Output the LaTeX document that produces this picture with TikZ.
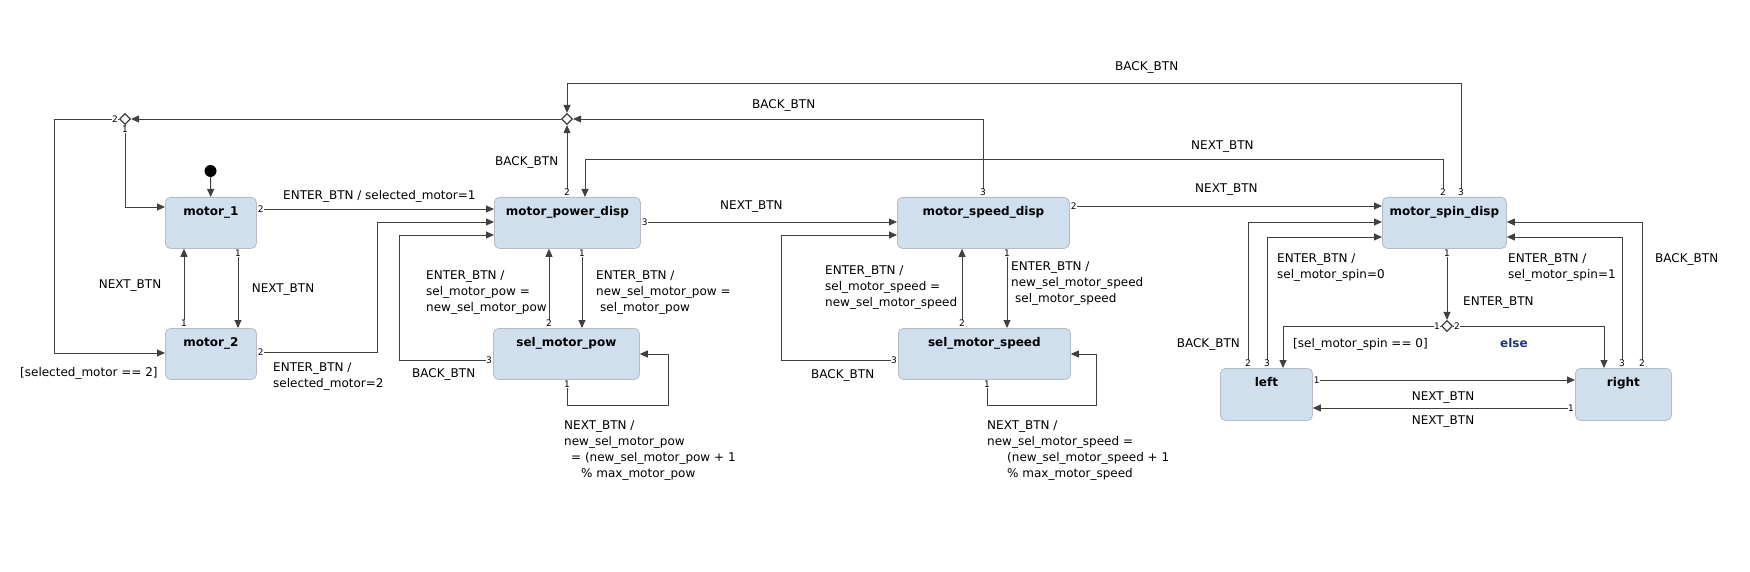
\documentclass[tikz,border=0pt]{standalone}
\usepackage{fontspec}
\setmainfont{DejaVu Sans}
\usetikzlibrary{arrows.meta,positioning,shapes.geometric}
\definecolor{statefill}{RGB}{208,223,238}
\definecolor{stateline}{RGB}{180,188,197}
\definecolor{wire}{RGB}{64,64,64}
\definecolor{elseblue}{RGB}{28,52,128}

\begin{document}
\begin{tikzpicture}[x=1pt, y=-1pt, >={Triangle[length=8pt,width=7pt]},
    statebox/.style={draw=stateline, fill=statefill, rounded corners=5pt, line width=0.8pt,
      anchor=north west, inner sep=0pt, text height=18pt, text depth=33pt,
      font=\fontsize{12}{14}\selectfont\bfseries},
    junc/.style={diamond, draw=wire, fill=white, line width=1.2pt, minimum size=11pt, inner sep=0pt},
    flow/.style={->, draw=wire, line width=0.9pt},
    port/.style={font=\fontsize{9}{9}\selectfont, fill=white, inner sep=0.6pt},
    lbl/.style={font=\fontsize{12}{16}\selectfont, align=left, inner sep=0pt, anchor=base west}]
  \useasboundingbox (0,0) rectangle (1750,572);

  % states
  \node[statebox, minimum width=91pt] (motorone) at (165,197) {motor\_1};
  \node[statebox, minimum width=91pt] (motortwo) at (165,328) {motor\_2};
  \node[statebox, minimum width=146pt] (powdisp) at (494,197) {motor\_power\_disp};
  \node[statebox, minimum width=146pt] (selpow) at (493,328) {sel\_motor\_pow};
  \node[statebox, minimum width=172pt] (speeddisp) at (897,197) {motor\_speed\_disp};
  \node[statebox, minimum width=172pt] (selspeed) at (898,328) {sel\_motor\_speed};
  \node[statebox, minimum width=124pt] (spindisp) at (1382,197) {motor\_spin\_disp};
  \node[statebox, minimum width=92pt, text depth=34pt] (spinleft) at (1220,368) {left};
  \node[statebox, minimum width=96pt, text depth=34pt] (spinright) at (1575,368) {right};

  % initial state and junctions
  \node[circle, fill=black, minimum size=12pt, inner sep=0pt] (init) at (210.5,171) {};
  \node[junc] (jtop) at (125,119) {};
  \node[junc] (jback) at (567,119) {};
  \node[junc] (jspin) at (1447,326) {};

  % transitions
  \draw[flow] (init) -- (motorone);
  \draw[flow] (238,0 |- motorone.south) node[port,below]{1} -- (238,0 |- motortwo.north);
  \draw[flow] (184,0 |- motortwo.north) node[port,above]{1} -- (184,0 |- motorone.south);
  \draw[flow] (motorone.east |- 0,209) node[port,right]{2} -- (powdisp.west |- 0,209);
  \draw[flow] (motortwo.east |- 0,352) node[port,right]{2} -| (377,222) -- (powdisp.west |- 0,222);
  \draw[flow] (jtop.south) node[port,below]{1} |- (motorone.west |- 0,207);
  \draw[flow] (jtop.west) node[port,left]{2} -| (54,353) -- (motortwo.west |- 0,353);

  \draw[flow] (selpow.west |- 0,360) node[port,left]{3} -| (399,235) -- (powdisp.west |- 0,235);
  \draw[flow] (582,0 |- powdisp.south) node[port,below]{1} -- (582,0 |- selpow.north);
  \draw[flow] (549,0 |- selpow.north) node[port,above]{2} -- (549,0 |- powdisp.south);
  \draw[flow] (567,0 |- selpow.south) node[port,below]{1} |- (668,405) |- (selpow.east |- 0,354);
  \draw[flow] (jback |- powdisp.north) node[port,above]{2} -- (jback);
  \draw[flow] (powdisp.east |- 0,222) node[port,right]{3} -- (speeddisp.west |- 0,222);
  \draw[flow] (jback) -- (jtop);

  \draw[flow] (983,0 |- speeddisp.north) node[port,above]{3} |- (jback);
  \draw[flow] (speeddisp.east |- 0,206) node[port,right]{2} -- (spindisp.west |- 0,206);
  \draw[flow] (selspeed.west |- 0,360) node[port,left]{3} -| (781,235) -- (speeddisp.west |- 0,235);
  \draw[flow] (962,0 |- selspeed.north) node[port,above]{2} -- (962,0 |- speeddisp.south);
  \draw[flow] (1007,0 |- speeddisp.south) node[port,below]{1} -- (1007,0 |- selspeed.north);
  \draw[flow] (987,0 |- selspeed.south) node[port,below]{1} |- (1096,405) |- (selspeed.east |- 0,354);

  \draw[flow] (1443,0 |- spindisp.north) node[port,above]{2} |- (585,159) -- (585,0 |- powdisp.north);
  \draw[flow] (1461,0 |- spindisp.north) node[port,above]{3} |- (567,83) -- (jback);
  \draw[flow] (jspin |- spindisp.south) node[port,below]{1} -- (jspin);
  \draw[flow] (jspin.west) node[port,left]{1} -| (1283,0 |- spinleft.north);
  \draw[flow] (jspin.east) node[port,right]{2} -| (1604,0 |- spinright.north);
  \draw[flow] (1248,0 |- spinleft.north) node[port,above]{2} |- (spindisp.west |- 0,222);
  \draw[flow] (1267,0 |- spinleft.north) node[port,above]{3} |- (spindisp.west |- 0,237);
  \draw[flow] (1642,0 |- spinright.north) node[port,above]{2} |- (spindisp.east |- 0,222);
  \draw[flow] (1622,0 |- spinright.north) node[port,above]{3} |- (spindisp.east |- 0,237);
  \draw[flow] (spinleft.east |- 0,380) node[port,right]{1} -- (spinright.west |- 0,380);
  \draw[flow] (spinright.west |- 0,408) node[port,left]{1} -- (spinleft.east |- 0,408);

  % transition labels (multi-line: base is the last line)
  \node[lbl] (tenterone) at (283,200) {ENTER\_BTN / selected\_motor=1};
  \node[lbl] (tentertwo) at (273,387) {ENTER\_BTN /\\selected\_motor=2};
  \node[lbl, anchor=base] (tnextup) at (130,288) {NEXT\_BTN};
  \node[lbl, anchor=base] (tnextdown) at (283,292) {NEXT\_BTN};
  \node[lbl] (tguardtwo) at (20,376) {[selected\_motor == 2]};
  \node[lbl] (tbackpow) at (495,166) {BACK\_BTN};
  \node[lbl] (tnextpow) at (720,210) {NEXT\_BTN};
  \node[lbl] (tsetpow) at (426,311) {ENTER\_BTN /\\sel\_motor\_pow =\\new\_sel\_motor\_pow};
  \node[lbl] (tinitpow) at (596,311) {ENTER\_BTN /\\new\_sel\_motor\_pow =\\\hspace{4pt}sel\_motor\_pow};
  \node[lbl] (tbackselpow) at (412,377) {BACK\_BTN};
  \node[lbl] (tincpow) at (564,477) {NEXT\_BTN /\\new\_sel\_motor\_pow\\\hspace{7pt}= (new\_sel\_motor\_pow + 1\\\hspace{17pt}\% max\_motor\_pow};
  \node[lbl] (tbackspeed) at (752,109) {BACK\_BTN};
  \node[lbl] (tbackspin) at (1115,71) {BACK\_BTN};
  \node[lbl] (tnextspin) at (1191,150) {NEXT\_BTN};
  \node[lbl] (tnextspeed) at (1195,193) {NEXT\_BTN};
  \node[lbl] (tsetspeed) at (825,306) {ENTER\_BTN /\\sel\_motor\_speed =\\new\_sel\_motor\_speed};
  \node[lbl] (tinitspeed) at (1011,302) {ENTER\_BTN /\\new\_sel\_motor\_speed\\\hspace{4pt}sel\_motor\_speed};
  \node[lbl] (tbackselspeed) at (811,378) {BACK\_BTN};
  \node[lbl] (tincspeed) at (987,477) {NEXT\_BTN /\\new\_sel\_motor\_speed =\\\hspace{20pt}(new\_sel\_motor\_speed + 1\\\hspace{20pt}\% max\_motor\_speed};
  \node[lbl] (tsetleft) at (1277,278) {ENTER\_BTN /\\sel\_motor\_spin=0};
  \node[lbl] (tsetright) at (1508,278) {ENTER\_BTN /\\sel\_motor\_spin=1};
  \node[lbl] (tbackright) at (1655,262) {BACK\_BTN};
  \node[lbl, anchor=base east] (tbackleft) at (1240,347) {BACK\_BTN};
  \node[lbl] (tenterspin) at (1463,305) {ENTER\_BTN};
  \node[lbl] (tguardleft) at (1293,347) {[sel\_motor\_spin == 0]};
  \node[lbl, font=\fontsize{12}{14}\selectfont\bfseries, text=elseblue] (telse) at (1500,347) {else};
  \node[lbl, anchor=base] (tnextright) at (1443,400) {NEXT\_BTN};
  \node[lbl, anchor=base] (tnextleft) at (1443,424) {NEXT\_BTN};
\end{tikzpicture}
\end{document}
